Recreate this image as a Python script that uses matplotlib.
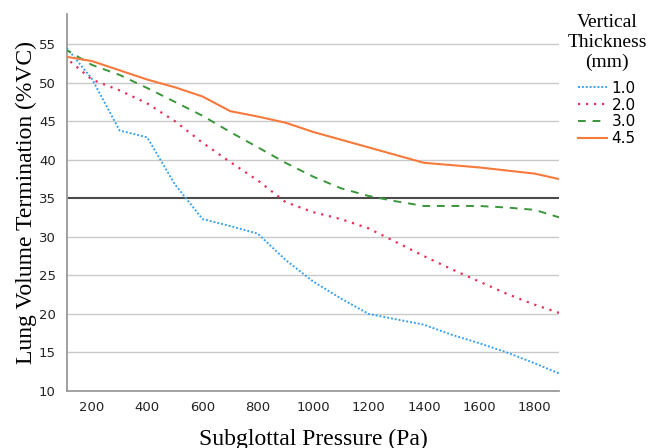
import matplotlib
matplotlib.use("Agg")
import matplotlib.pyplot as plt

pressure = [100, 200, 300, 400, 500, 600, 700, 800, 900, 1000,
            1100, 1200, 1300, 1400, 1500, 1600, 1700, 1800, 1900]
t_1_0 = [54.9, 50.5, 43.8, 42.9, 36.8, 32.3, 31.4, 30.4, 27.0, 24.2,
         22.0, 20.0, 19.3, 18.6, 17.3, 16.2, 15.0, 13.6, 12.1]
t_2_0 = [53.4, 50.4, 49.0, 47.3, 45.0, 42.2, 39.7, 37.3, 34.5, 33.2,
         32.3, 31.1, 29.3, 27.5, 25.8, 24.2, 22.6, 21.2, 20.0]
t_3_0 = [54.4, 52.3, 51.0, 49.3, 47.5, 45.7, 43.6, 41.6, 39.6, 37.8,
         36.3, 35.3, 34.6, 34.0, 34.0, 34.0, 33.8, 33.5, 32.4]
t_4_5 = [53.4, 52.8, 51.6, 50.4, 49.4, 48.2, 46.3, 45.6, 44.8, 43.6,
         42.6, 41.6, 40.6, 39.6, 39.3, 39.0, 38.6, 38.2, 37.4]
series_labels = ["1.0", "2.0", "3.0", "4.5"]
legend_title = "Vertical\nThickness\n(mm)"
x_ticks = [200, 400, 600, 800, 1000, 1200, 1400, 1600, 1800]
y_ticks = [10, 15, 20, 25, 30, 35, 40, 45, 50, 55]
reference_level = 35

fig = plt.figure(figsize=(6.49, 4.48), dpi=100)
ax = fig.add_axes([0.1032, 0.1272, 0.7581, 0.8415])

for y in y_ticks[1:]:
    if y == reference_level:
        continue
    ax.axhline(y, color="#c9c9c9", lw=1.0, zorder=1)
ax.axhline(reference_level, color="#4a4a4a", lw=1.5, zorder=2)

styles = [
    dict(color="#3aa3ee", lw=1.4, ls=(0, (1, 1))),
    dict(color="#e8305c", lw=1.6, ls=(0, (1, 2.6))),
    dict(color="#3a963a", lw=1.4, ls=(0, (4, 3.5))),
    dict(color="#f77a3c", lw=1.5, ls="-"),
]
for data, lab, st in zip([t_1_0, t_2_0, t_3_0, t_4_5], series_labels, styles):
    ax.plot(pressure, data, label=lab, zorder=3, **st)

ax.set_xlim(110, 1888)
ax.set_ylim(10, 58.9)
ax.set_xticks(x_ticks)
ax.set_yticks(y_ticks)
ax.tick_params(length=0, labelsize=9.5, colors="#222222")
ax.tick_params(axis="x", pad=7)
ax.tick_params(axis="y", pad=8)
for s in ["top", "right"]:
    ax.spines[s].set_visible(False)
for s in ["left", "bottom"]:
    ax.spines[s].set_color("#9a9a9a")
    ax.spines[s].set_linewidth(1.3)

ax.set_xlabel("Subglottal Pressure (Pa)", family="Liberation Serif", fontsize=17, labelpad=10.5)
ax.set_ylabel("Lung Volume Termination (%VC)", family="Liberation Serif", fontsize=17, labelpad=1.5)

fig.text(607 / 649, 1 - 14 / 448, legend_title, ha="center", va="top",
         multialignment="center", family="Liberation Serif", fontsize=14,
         linespacing=1.2)

leg = fig.legend(loc="upper center", bbox_to_anchor=(607 / 649, 1 - 70 / 448),
                 frameon=False, fontsize=11, handlelength=1.9, handletextpad=0.3,
                 labelspacing=0.12, borderpad=0.2)

fig.savefig("out.png", dpi=100)
